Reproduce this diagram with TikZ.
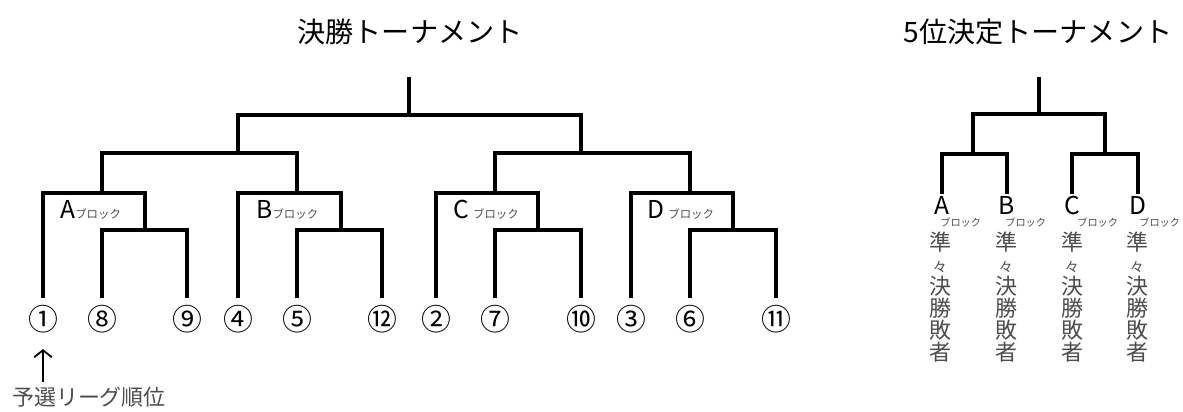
\documentclass[tikz,border=0pt]{standalone}
\usepackage{fontspec}
\setmainfont{Noto Sans CJK JP}
\usetikzlibrary{arrows.meta}
\definecolor{textgray}{gray}{0.3}
\newcommand{\burokku}{{\color{textgray}\fontsize{6.5}{6.5}\selectfont ブロック}}

\begin{document}
\begin{tikzpicture}[x=0.02cm,y=-0.02cm,
	bracket/.style={line width = 0.7mm},
	seed/.style={inner xsep=0pt, inner ysep=4pt, font=\fontsize{17}{17}\selectfont},
	blocklabel/.style={anchor=base west, inner sep=0pt, font=\fontsize{14}{14}\selectfont},
	blockletter/.style={anchor=north, inner sep=1pt, font=\fontsize{14}{14}\selectfont},
	blocksmall/.style={anchor=west, inner sep=0pt, text=textgray, font=\fontsize{5.8}{5.8}\selectfont},
	loser/.style={align=center, inner sep=0pt, text=textgray, font=\fontsize{12.5}{12.5}\selectfont}]
	
	\useasboundingbox (0,0) rectangle (1183,412);
	
	% titles
	\node[font=\fontsize{16}{16}\selectfont] (mainTitle) at (410,32) {決勝トーナメント};
	\node[font=\fontsize{16}{16}\selectfont] (fifthTitle) at (1038,32) {5位決定トーナメント};
	
	% main bracket
	\coordinate (top) at (409,77);
	\coordinate (fin) at (409,115);
	\coordinate (semiL) at (238,153);
	\coordinate (semiR) at (581,153);
	\coordinate (blkA) at (102,193);
	\coordinate (blkB) at (297,193);
	\coordinate (blkC) at (495,193);
	\coordinate (blkD) at (690,193);
	\coordinate (subA) at (145,230);
	\coordinate (subB) at (341,230);
	\coordinate (subC) at (538,230);
	\coordinate (subD) at (733,230);
	
	\node[seed] (s1) at (43,319) {①};
	\node[seed] (s8) at (102,319) {⑧};
	\node[seed] (s9) at (187,319) {⑨};
	\node[seed] (s4) at (238,319) {④};
	\node[seed] (s5) at (297,319) {⑤};
	\node[seed] (s12) at (382,319) {⑫};
	\node[seed] (s2) at (436,319) {②};
	\node[seed] (s7) at (495,319) {⑦};
	\node[seed] (s10) at (581,319) {⑩};
	\node[seed] (s3) at (631,319) {③};
	\node[seed] (s6) at (690,319) {⑥};
	\node[seed] (s11) at (776,319) {⑪};
	
	\draw[bracket] (top) -- (fin);
	\draw[bracket] (semiL) |- (fin) -| (semiR);
	\draw[bracket] (blkA) |- (semiL) -| (blkB);
	\draw[bracket] (blkC) |- (semiR) -| (blkD);
	
	\draw[bracket] (s1.north) |- (blkA) -| (subA);
	\draw[bracket] (s8.north) |- (subA) -| (s9.north);
	\draw[bracket] (s4.north) |- (blkB) -| (subB);
	\draw[bracket] (s5.north) |- (subB) -| (s12.north);
	\draw[bracket] (s2.north) |- (blkC) -| (subC);
	\draw[bracket] (s7.north) |- (subC) -| (s10.north);
	\draw[bracket] (s3.north) |- (blkD) -| (subD);
	\draw[bracket] (s6.north) |- (subD) -| (s11.north);
	
	\node[blocklabel] (labA) at (60,218) {A\burokku};
	\node[blocklabel] (labB) at (256,218) {B\burokku};
	\node[blocklabel] (labC) at (453,218) {C\,\burokku};
	\node[blocklabel] (labD) at (647,218) {D\,\burokku};
	
	% rank note
	\coordinate (arrowFoot) at (43,382);
	\draw[line width = 0.35mm, -{Straight Barb[length=4pt,width=10pt]}, shorten >=5pt] (arrowFoot) -- (s1.south);
	\node[text=textgray, font=\fontsize{12.5}{12.5}\selectfont] (rank) at (89,397) {予選リーグ順位};
	
	% 5th place bracket
	\coordinate (top5) at (1039,77);
	\coordinate (fin5) at (1039,114);
	\coordinate (semi5L) at (973,154);
	\coordinate (semi5R) at (1105,154);
	
	\node[blockletter] (cA) at (942,194) {A};
	\node[blockletter] (cB) at (1007,194) {B};
	\node[blockletter] (cC) at (1072,194) {C};
	\node[blockletter] (cD) at (1138,194) {D};
	
	\draw[bracket] (top5) -- (fin5);
	\draw[bracket] (semi5L) |- (fin5) -| (semi5R);
	\draw[bracket] (cA.north) |- (semi5L) -| (cB.north);
	\draw[bracket] (cC.north) |- (semi5R) -| (cD.north);
	
	\node[blocksmall] (cAb) at (940,223) {ブロック};
	\node[blocksmall] (cBb) at (1005,223) {ブロック};
	\node[blocksmall] (cCb) at (1077,223) {ブロック};
	\node[blocksmall] (cDb) at (1139,223) {ブロック};
	
	\node[loser] (cAl) at (940,297) {準\\{\fontsize{8}{12.5}\selectfont 々}\\決\\勝\\敗\\者};
	\node[loser] (cBl) at (1006,297) {準\\{\fontsize{8}{12.5}\selectfont 々}\\決\\勝\\敗\\者};
	\node[loser] (cCl) at (1072,297) {準\\{\fontsize{8}{12.5}\selectfont 々}\\決\\勝\\敗\\者};
	\node[loser] (cDl) at (1137,297) {準\\{\fontsize{8}{12.5}\selectfont 々}\\決\\勝\\敗\\者};
	
\end{tikzpicture}
\end{document}
